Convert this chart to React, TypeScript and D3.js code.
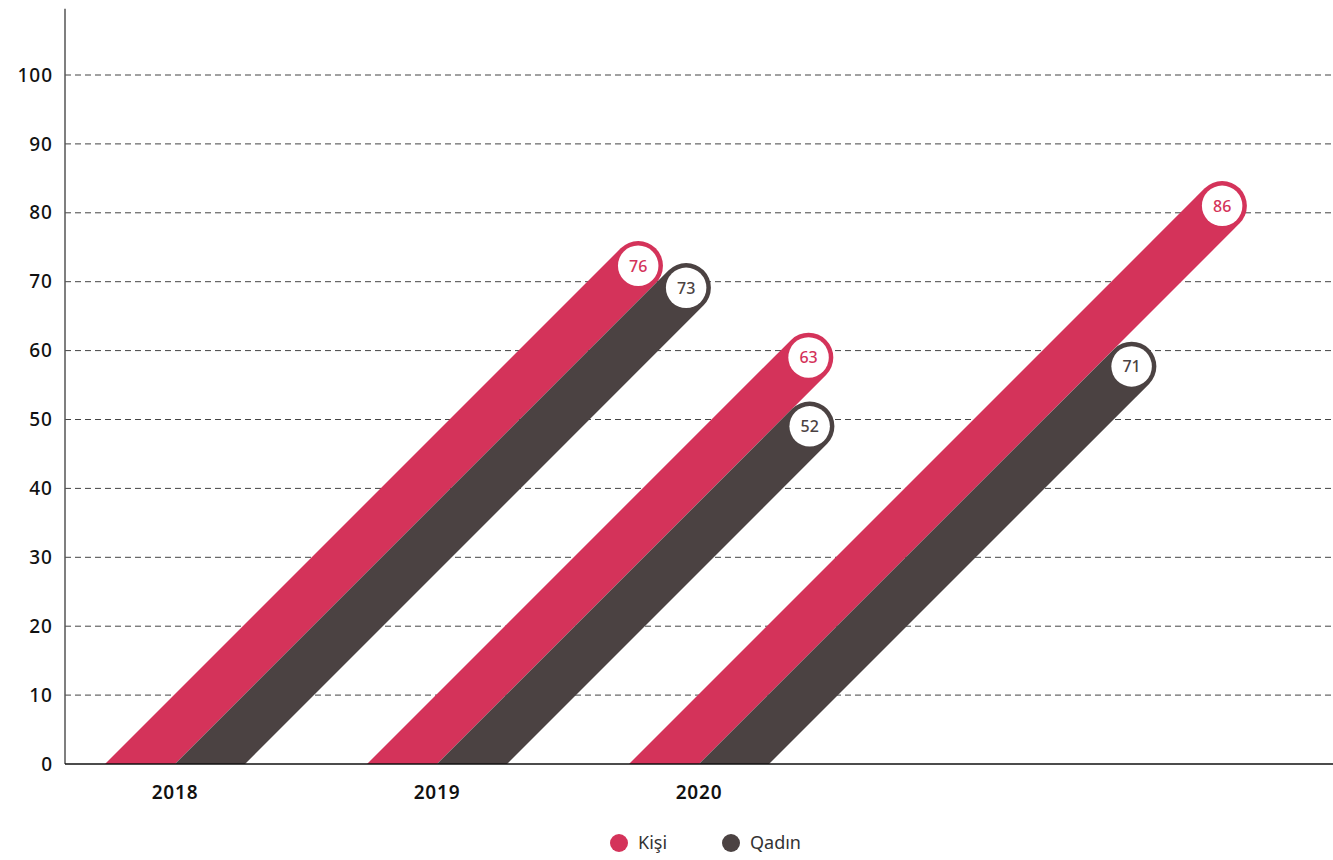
import { useEffect, useRef } from "react";
import * as d3 from "d3";

const years = ["2018", "2019", "2020"];
const kisiValues = [76, 63, 86];
const qadinValues = [73, 52, 71];
// where the rounded end of each bar reaches on the value axis, as drawn in the picture
const kisiTops = [75.9, 62.6, 84.6];
const qadinTops = [72.7, 52.6, 61.3];
const yTicks = [0, 10, 20, 30, 40, 50, 60, 70, 80, 90, 100];
const seriesNames = ["Kişi", "Qadın"];
const seriesColors = ["#d4335a", "#4b4242"];

const WIDTH = 1333;
const HEIGHT = 860;
const FONT = "'Noto Sans', sans-serif";

export default function App() {
  const ref = useRef<SVGSVGElement>(null);

  useEffect(() => {
    draw();
  });

  function draw() {
    const svg = d3.select(ref.current);
    svg.selectAll("*").remove();

    const y = d3.scaleLinear().domain([0, 100]).range([764, 75]);
    const x = d3.scaleBand().domain(years).range([44, 830]);
    const y0 = y(0);
    const barW = 70; // horizontal width of a bar at the baseline
    const stroke = barW / Math.SQRT2;
    const capR = stroke / 2;

    // gridlines
    svg
      .append("g")
      .selectAll("line")
      .data(yTicks.filter((t) => t > 0))
      .enter()
      .append("line")
      .attr("x1", 65)
      .attr("x2", WIDTH)
      .attr("y1", (d) => y(d))
      .attr("y2", (d) => y(d))
      .attr("stroke", "#444")
      .attr("stroke-width", 1)
      .attr("stroke-dasharray", "6,4");

    // tick labels
    svg
      .append("g")
      .selectAll("text")
      .data(yTicks)
      .enter()
      .append("text")
      .attr("x", 53)
      .attr("y", (d) => y(d))
      .attr("dy", "0.35em")
      .attr("text-anchor", "end")
      .attr("font-family", FONT)
      .attr("font-size", 19)
      .attr("font-weight", 500)
      .attr("letter-spacing", 1)
      .attr("fill", "#111")
      .text((d) => d);

    svg
      .append("defs")
      .append("clipPath")
      .attr("id", "above-base")
      .append("rect")
      .attr("x", 0)
      .attr("y", 0)
      .attr("width", WIDTH)
      .attr("height", y0);

    const bars = svg.append("g").attr("clip-path", "url(#above-base)");
    const series = [
      { values: kisiValues, tops: kisiTops, offset: -barW / 2, color: seriesColors[0] },
      { values: qadinValues, tops: qadinTops, offset: barW / 2, color: seriesColors[1] },
    ];

    years.forEach((yr, i) => {
      series.forEach((s) => {
        const baseX = x(yr)! + x.bandwidth() / 2 + s.offset;
        const cy = y(s.tops[i]) + capR;
        const rise = y0 - cy;
        const cx = baseX + rise;
        bars
          .append("line")
          .attr("x1", baseX - 40)
          .attr("y1", y0 + 40)
          .attr("x2", cx)
          .attr("y2", cy)
          .attr("stroke", s.color)
          .attr("stroke-width", stroke)
          .attr("stroke-linecap", "round");
        bars
          .append("circle")
          .attr("cx", cx)
          .attr("cy", cy)
          .attr("r", capR - 4.5)
          .attr("fill", "#fff");
        bars
          .append("text")
          .attr("x", cx)
          .attr("y", cy)
          .attr("dy", "0.36em")
          .attr("text-anchor", "middle")
          .attr("font-family", FONT)
          .attr("font-size", 16)
          .attr("font-weight", 500)
          .attr("fill", s.color)
          .text(s.values[i]);
      });
    });

    // axes
    svg
      .append("line")
      .attr("x1", 65)
      .attr("x2", 65)
      .attr("y1", y(109.6))
      .attr("y2", y0)
      .attr("stroke", "#555")
      .attr("stroke-width", 1.5);
    svg
      .append("line")
      .attr("x1", 65)
      .attr("x2", WIDTH)
      .attr("y1", y0)
      .attr("y2", y0)
      .attr("stroke", "#111")
      .attr("stroke-width", 1.5);

    svg
      .append("g")
      .selectAll("text")
      .data(years)
      .enter()
      .append("text")
      .attr("x", (d) => x(d)! + x.bandwidth() / 2)
      .attr("y", 799)
      .attr("text-anchor", "middle")
      .attr("font-family", FONT)
      .attr("font-size", 19)
      .attr("font-weight", 600)
      .attr("letter-spacing", 0.8)
      .attr("fill", "#111")
      .text((d) => d);

    // legend
    const legendX = [619, 731];
    const legend = svg.append("g");
    seriesNames.forEach((name, i) => {
      legend
        .append("circle")
        .attr("cx", legendX[i])
        .attr("cy", 843)
        .attr("r", 9)
        .attr("fill", seriesColors[i]);
      legend
        .append("text")
        .attr("x", legendX[i] + 19)
        .attr("y", 843)
        .attr("dy", "0.35em")
        .attr("font-family", FONT)
        .attr("font-size", 18)
        .attr("fill", "#333")
        .text(name);
    });
  }

  return (
    <svg
      ref={ref}
      width={WIDTH}
      height={HEIGHT}
      style={{ position: "absolute", left: 0, top: 0, background: "#fff" }}
    ></svg>
  );
}
